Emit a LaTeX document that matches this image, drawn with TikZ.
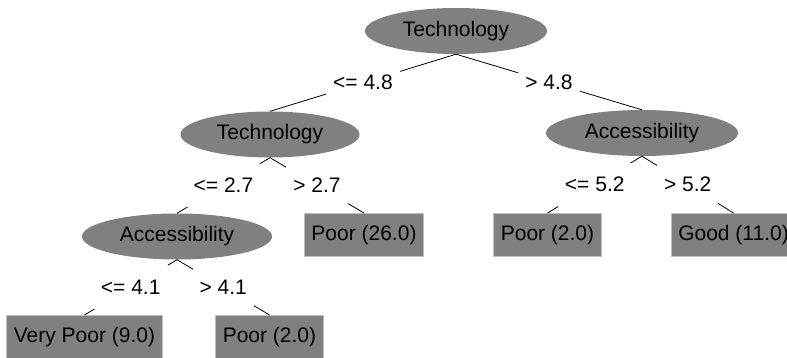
\documentclass[tikz,border=0pt]{standalone}
\usepackage{fontspec}
\setmainfont{Liberation Sans}
\usepackage{tikz}
\usetikzlibrary{shapes.geometric}

\definecolor{treegray}{RGB}{128,128,128}
\definecolor{leafrim}{RGB}{190,190,190}

\begin{document}
\begin{tikzpicture}[
  x=1pt,y=-1pt,
  font=\fontsize{21}{25}\selectfont,
  split/.style={ellipse,fill=treegray,inner sep=0pt,minimum height=46pt},
  leaf/.style={rectangle,fill=treegray,draw=leafrim,line width=1pt,inner xsep=7pt,minimum height=43pt},
  lbl/.style={fill=white,inner xsep=7pt,inner ysep=0pt,minimum height=44pt},
  branch/.style={line width=0.8pt}
]
\clip (0,0) rectangle (787,358);
% inner nodes
\node[split,minimum width=182pt] (root) at (456,31) {Technology};
\node[split,minimum width=179pt] (tech) at (270,134.5) {Technology};
\node[split,minimum width=192pt] (acc) at (642,133) {Accessibility};
\node[split,minimum width=190pt] (acclow) at (177,236.5) {Accessibility};
% leaves
\node[leaf] (poormid) at (364,235) {Poor (26.0)};
\node[leaf] (poorright) at (547.5,235) {Poor (2.0)};
\node[leaf] (good) at (733.5,235) {Good (11.0)};
\node[leaf] (verypoor) at (84.5,337) {Very Poor (9.0)};
\node[leaf] (poorlow) at (269.5,337) {Poor (2.0)};
% branches
\draw[branch] (root.south) -- node[lbl] {<= 4.8} (tech.north);
\draw[branch] (root.south) -- node[lbl] {> 4.8} (acc.north);
\draw[branch] (tech.south) -- node[lbl] {<= 2.7} (acclow.north);
\draw[branch] (tech.south) -- node[lbl] {> 2.7} (poormid.north);
\draw[branch] (acc.south) -- node[lbl] {<= 5.2} (poorright.north);
\draw[branch] (acc.south) -- node[lbl] {> 5.2} (good.north);
\draw[branch] (acclow.south) -- node[lbl] {<= 4.1} (verypoor.north);
\draw[branch] (acclow.south) -- node[lbl] {> 4.1} (poorlow.north);
\end{tikzpicture}
\end{document}
